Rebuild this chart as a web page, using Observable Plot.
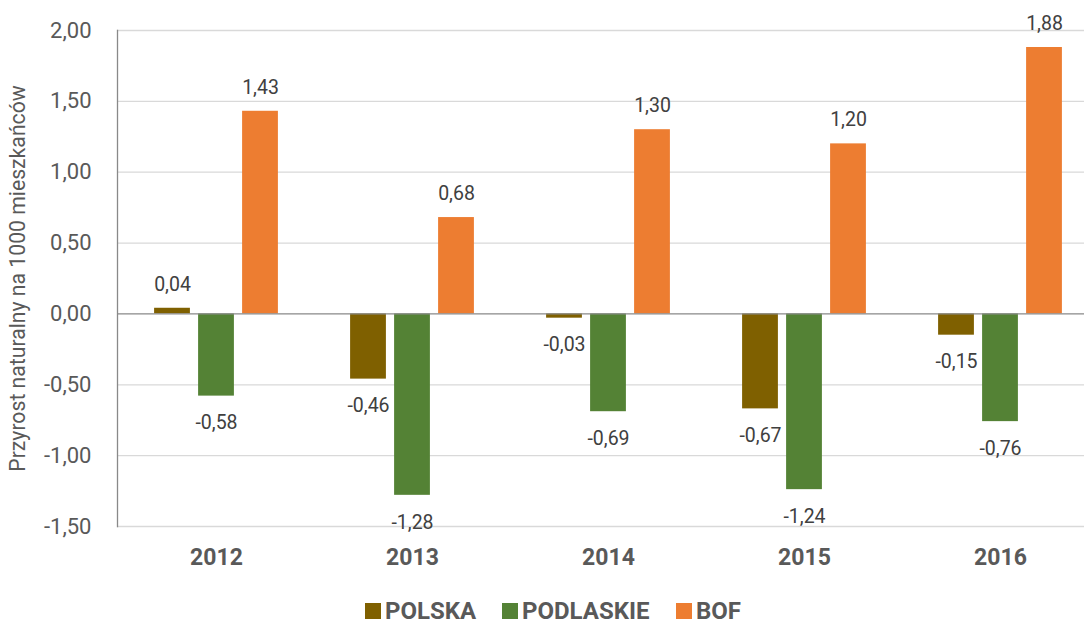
<!DOCTYPE html>
<html>
<head>
<meta charset="utf-8">
<script src="https://cdn.jsdelivr.net/npm/d3@7"></script>
<script src="https://cdn.jsdelivr.net/npm/@observablehq/plot@0.6"></script>
<style>
  html, body { margin: 0; padding: 0; background: #fff; overflow: hidden; }
  body { width: 1084px; height: 623px; font-family: Roboto, sans-serif; }
  #legend { position: relative; height: 33px; width: 1084px; }
  .item { position: absolute; top: 8px; display: flex; align-items: center; font-weight: bold; font-size: 24px; color: #595959; line-height: 26px; }
  .sw { width: 16px; height: 16px; margin-right: 4px; }
</style>
</head>
<body>
<div id="chart"></div>
<div id="legend"></div>
<script>
const years = ["2012", "2013", "2014", "2015", "2016"];
const seriesNames = ["POLSKA", "PODLASKIE", "BOF"];
const seriesColors = ["#7F6000", "#548235", "#ED7D31"];
const polska = [0.04, -0.46, -0.03, -0.67, -0.15];
const podlaskie = [-0.58, -1.28, -0.69, -1.24, -0.76];
const bof = [1.43, 0.68, 1.30, 1.20, 1.88];
const yTicks = [-1.5, -1, -0.5, 0, 0.5, 1, 1.5, 2];
const yTitle = "Przyrost naturalny na 1000 mieszkańców";

const valuesBySeries = [polska, podlaskie, bof];
const rows = [];
seriesNames.forEach((s, si) => {
  years.forEach((y, yi) => rows.push({year: y, series: s, si, value: valuesBySeries[si][yi]}));
});

const fmt = d => d.toFixed(2).replace(".", ",");
const step = 44;       // bar spacing within group
const offsets = [-step, 0, step];

const marks = [
  Plot.ruleY(yTicks.filter(d => d !== 0), {stroke: "#d9d9d9", strokeWidth: 1.3}),
];
seriesNames.forEach((s, si) => {
  const data = rows.filter(r => r.si === si);
  marks.push(
    Plot.barY(data, {x: "year", y: "value", fill: seriesColors[si], insetLeft: 80.1, insetRight: 80.1, dx: offsets[si]}),
    Plot.text(data.filter(d => d.value >= 0), {x: "year", y: "value", text: d => fmt(d.value), dx: offsets[si], dy: -24, fontSize: 19.5, fill: "#404040"}),
    Plot.text(data.filter(d => d.value < 0), {x: "year", y: "value", text: d => fmt(d.value), dx: offsets[si], dy: 27, fontSize: 19.5, fill: "#404040"})
  );
});
marks.push(
  Plot.ruleY([0], {stroke: "#898989", strokeWidth: 1.3}),
  Plot.frame({anchor: "left", stroke: "#898989", strokeWidth: 1.3}),
  Plot.axisY({ticks: yTicks, tickFormat: fmt, tickSize: 0, tickPadding: 26, fontSize: 22, label: null}),
  Plot.axisX({tickSize: 0, tickPadding: 22, fontSize: 23, fontWeight: "bold", label: null}),
  Plot.text([yTitle], {frameAnchor: "left", textAnchor: "middle", rotate: -90, dx: -99, dy: 0, fontSize: 21.2, fill: "#595959"})
);

const chart = Plot.plot({
  width: 1084,
  height: 590,
  marginLeft: 117,
  marginRight: 0,
  marginTop: 30,
  marginBottom: 64,
  style: {fontFamily: "Roboto, sans-serif", color: "#595959", background: "#fff", overflow: "hidden"},
  x: {domain: years, range: [117, 1098], padding: 0, axis: null},
  y: {domain: [-1.5, 2], axis: null},
  marks
});
document.getElementById("chart").appendChild(chart);

const legend = document.getElementById("legend");
const legendX = [365, 502, 676];
seriesNames.forEach((s, i) => {
  const item = document.createElement("div");
  item.className = "item";
  item.style.left = legendX[i] + "px";
  const sw = document.createElement("span");
  sw.className = "sw";
  sw.style.background = seriesColors[i];
  const t = document.createElement("span");
  t.textContent = s;
  item.appendChild(sw);
  item.appendChild(t);
  legend.appendChild(item);
});
</script>
</body>
</html>
